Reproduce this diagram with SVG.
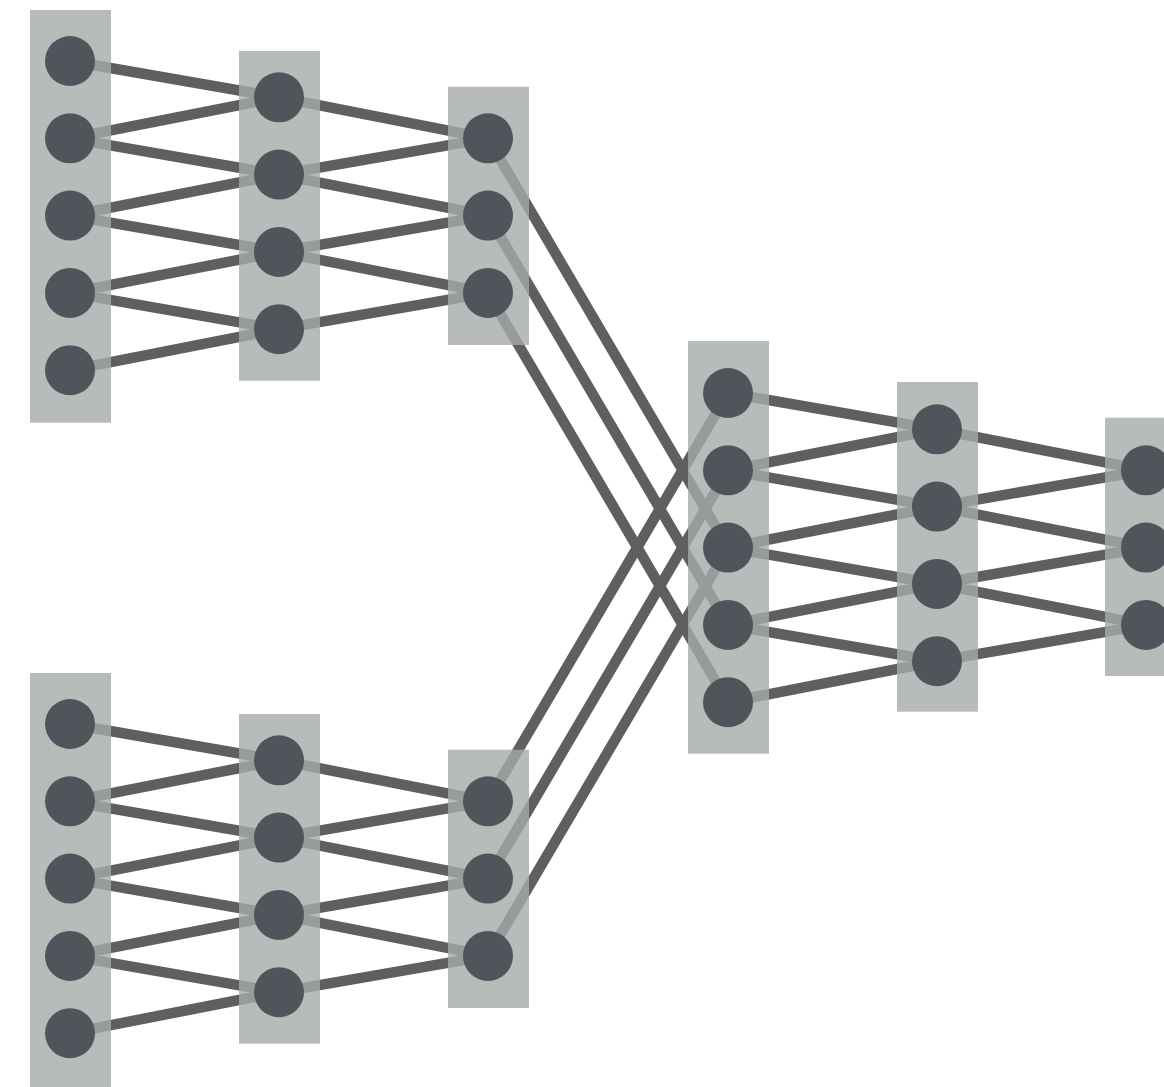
<svg xmlns="http://www.w3.org/2000/svg" width="1164" height="1087" viewBox="0 0 1164 1087">
  <style>
    .edge { stroke: #5f5f5f; stroke-width: 10.5; fill: none; stroke-linecap: butt; }
    .layer { fill: #a5aaa9; fill-opacity: 0.8; }
    .unit { fill: #50555c; }
  </style>
  <rect width="1164" height="1087" fill="#ffffff"/>

  <!-- connections (drawn first, so the translucent layer bands tint them) -->
  <g id="connectors" class="edge">
    <!-- upper branch: layer A -> layer B -->
    <line x1="70" y1="61" x2="279" y2="97.3"/>
    <line x1="70" y1="138.3" x2="279" y2="97.3"/>
    <line x1="70" y1="138.3" x2="279" y2="174.6"/>
    <line x1="70" y1="215.6" x2="279" y2="174.6"/>
    <line x1="70" y1="215.6" x2="279" y2="251.9"/>
    <line x1="70" y1="292.9" x2="279" y2="251.9"/>
    <line x1="70" y1="292.9" x2="279" y2="329.2"/>
    <line x1="70" y1="370.2" x2="279" y2="329.2"/>
    <!-- upper branch: layer B -> layer C -->
    <line x1="279" y1="97.3" x2="488" y2="138.3"/>
    <line x1="279" y1="174.6" x2="488" y2="138.3"/>
    <line x1="279" y1="174.6" x2="488" y2="215.6"/>
    <line x1="279" y1="251.9" x2="488" y2="215.6"/>
    <line x1="279" y1="251.9" x2="488" y2="292.9"/>
    <line x1="279" y1="329.2" x2="488" y2="292.9"/>

    <!-- lower branch: layer A -> layer B -->
    <line x1="70" y1="724" x2="279" y2="760.3"/>
    <line x1="70" y1="801.3" x2="279" y2="760.3"/>
    <line x1="70" y1="801.3" x2="279" y2="837.6"/>
    <line x1="70" y1="878.6" x2="279" y2="837.6"/>
    <line x1="70" y1="878.6" x2="279" y2="914.9"/>
    <line x1="70" y1="955.9" x2="279" y2="914.9"/>
    <line x1="70" y1="955.9" x2="279" y2="992.2"/>
    <line x1="70" y1="1033.2" x2="279" y2="992.2"/>
    <!-- lower branch: layer B -> layer C -->
    <line x1="279" y1="760.3" x2="488" y2="801.3"/>
    <line x1="279" y1="837.6" x2="488" y2="801.3"/>
    <line x1="279" y1="837.6" x2="488" y2="878.6"/>
    <line x1="279" y1="914.9" x2="488" y2="878.6"/>
    <line x1="279" y1="914.9" x2="488" y2="955.9"/>
    <line x1="279" y1="992.2" x2="488" y2="955.9"/>

    <!-- branches merging into the joint network -->
    <line x1="488" y1="138.3" x2="728" y2="547.6"/>
    <line x1="488" y1="215.6" x2="728" y2="624.9"/>
    <line x1="488" y1="292.9" x2="728" y2="702.2"/>
    <line x1="488" y1="801.3" x2="728" y2="393"/>
    <line x1="488" y1="878.6" x2="728" y2="470.3"/>
    <line x1="488" y1="955.9" x2="728" y2="547.6"/>

    <!-- joint network: layer D -> layer E -->
    <line x1="728" y1="393" x2="937" y2="429.3"/>
    <line x1="728" y1="470.3" x2="937" y2="429.3"/>
    <line x1="728" y1="470.3" x2="937" y2="506.6"/>
    <line x1="728" y1="547.6" x2="937" y2="506.6"/>
    <line x1="728" y1="547.6" x2="937" y2="583.9"/>
    <line x1="728" y1="624.9" x2="937" y2="583.9"/>
    <line x1="728" y1="624.9" x2="937" y2="661.2"/>
    <line x1="728" y1="702.2" x2="937" y2="661.2"/>
    <!-- joint network: layer E -> layer F -->
    <line x1="937" y1="429.3" x2="1146" y2="470.3"/>
    <line x1="937" y1="506.6" x2="1146" y2="470.3"/>
    <line x1="937" y1="506.6" x2="1146" y2="547.6"/>
    <line x1="937" y1="583.9" x2="1146" y2="547.6"/>
    <line x1="937" y1="583.9" x2="1146" y2="624.9"/>
    <line x1="937" y1="661.2" x2="1146" y2="624.9"/>
  </g>

  <!-- layer bands -->
  <g id="layers">
    <rect id="upper-A" class="layer" x="30" y="10" width="81" height="412.7"/>
    <rect id="upper-B" class="layer" x="239" y="51" width="81" height="329.7"/>
    <rect id="upper-C" class="layer" x="448" y="86.7" width="81" height="258.3"/>
    <rect id="lower-A" class="layer" x="30" y="673" width="81" height="414"/>
    <rect id="lower-B" class="layer" x="239" y="714" width="81" height="329.7"/>
    <rect id="lower-C" class="layer" x="448" y="749.7" width="81" height="258.3"/>
    <rect id="joint-D" class="layer" x="688" y="341" width="81" height="412.7"/>
    <rect id="joint-E" class="layer" x="897" y="382" width="81" height="329.7"/>
    <rect id="joint-F" class="layer" x="1105" y="417.7" width="81" height="258.3"/>
  </g>

  <!-- units -->
  <g id="upper-A1"><circle class="unit" cx="70" cy="61" r="25"/></g>
  <g id="upper-A2"><circle class="unit" cx="70" cy="138.3" r="25"/></g>
  <g id="upper-A3"><circle class="unit" cx="70" cy="215.6" r="25"/></g>
  <g id="upper-A4"><circle class="unit" cx="70" cy="292.9" r="25"/></g>
  <g id="upper-A5"><circle class="unit" cx="70" cy="370.2" r="25"/></g>
  <g id="upper-B1"><circle class="unit" cx="279" cy="97.3" r="25"/></g>
  <g id="upper-B2"><circle class="unit" cx="279" cy="174.6" r="25"/></g>
  <g id="upper-B3"><circle class="unit" cx="279" cy="251.9" r="25"/></g>
  <g id="upper-B4"><circle class="unit" cx="279" cy="329.2" r="25"/></g>
  <g id="upper-C1"><circle class="unit" cx="488" cy="138.3" r="25"/></g>
  <g id="upper-C2"><circle class="unit" cx="488" cy="215.6" r="25"/></g>
  <g id="upper-C3"><circle class="unit" cx="488" cy="292.9" r="25"/></g>

  <g id="lower-A1"><circle class="unit" cx="70" cy="724" r="25"/></g>
  <g id="lower-A2"><circle class="unit" cx="70" cy="801.3" r="25"/></g>
  <g id="lower-A3"><circle class="unit" cx="70" cy="878.6" r="25"/></g>
  <g id="lower-A4"><circle class="unit" cx="70" cy="955.9" r="25"/></g>
  <g id="lower-A5"><circle class="unit" cx="70" cy="1033.2" r="25"/></g>
  <g id="lower-B1"><circle class="unit" cx="279" cy="760.3" r="25"/></g>
  <g id="lower-B2"><circle class="unit" cx="279" cy="837.6" r="25"/></g>
  <g id="lower-B3"><circle class="unit" cx="279" cy="914.9" r="25"/></g>
  <g id="lower-B4"><circle class="unit" cx="279" cy="992.2" r="25"/></g>
  <g id="lower-C1"><circle class="unit" cx="488" cy="801.3" r="25"/></g>
  <g id="lower-C2"><circle class="unit" cx="488" cy="878.6" r="25"/></g>
  <g id="lower-C3"><circle class="unit" cx="488" cy="955.9" r="25"/></g>

  <g id="joint-D1"><circle class="unit" cx="728" cy="393" r="25"/></g>
  <g id="joint-D2"><circle class="unit" cx="728" cy="470.3" r="25"/></g>
  <g id="joint-D3"><circle class="unit" cx="728" cy="547.6" r="25"/></g>
  <g id="joint-D4"><circle class="unit" cx="728" cy="624.9" r="25"/></g>
  <g id="joint-D5"><circle class="unit" cx="728" cy="702.2" r="25"/></g>
  <g id="joint-E1"><circle class="unit" cx="937" cy="429.3" r="25"/></g>
  <g id="joint-E2"><circle class="unit" cx="937" cy="506.6" r="25"/></g>
  <g id="joint-E3"><circle class="unit" cx="937" cy="583.9" r="25"/></g>
  <g id="joint-E4"><circle class="unit" cx="937" cy="661.2" r="25"/></g>
  <g id="joint-F1"><circle class="unit" cx="1146" cy="470.3" r="25"/></g>
  <g id="joint-F2"><circle class="unit" cx="1146" cy="547.6" r="25"/></g>
  <g id="joint-F3"><circle class="unit" cx="1146" cy="624.9" r="25"/></g>
</svg>
